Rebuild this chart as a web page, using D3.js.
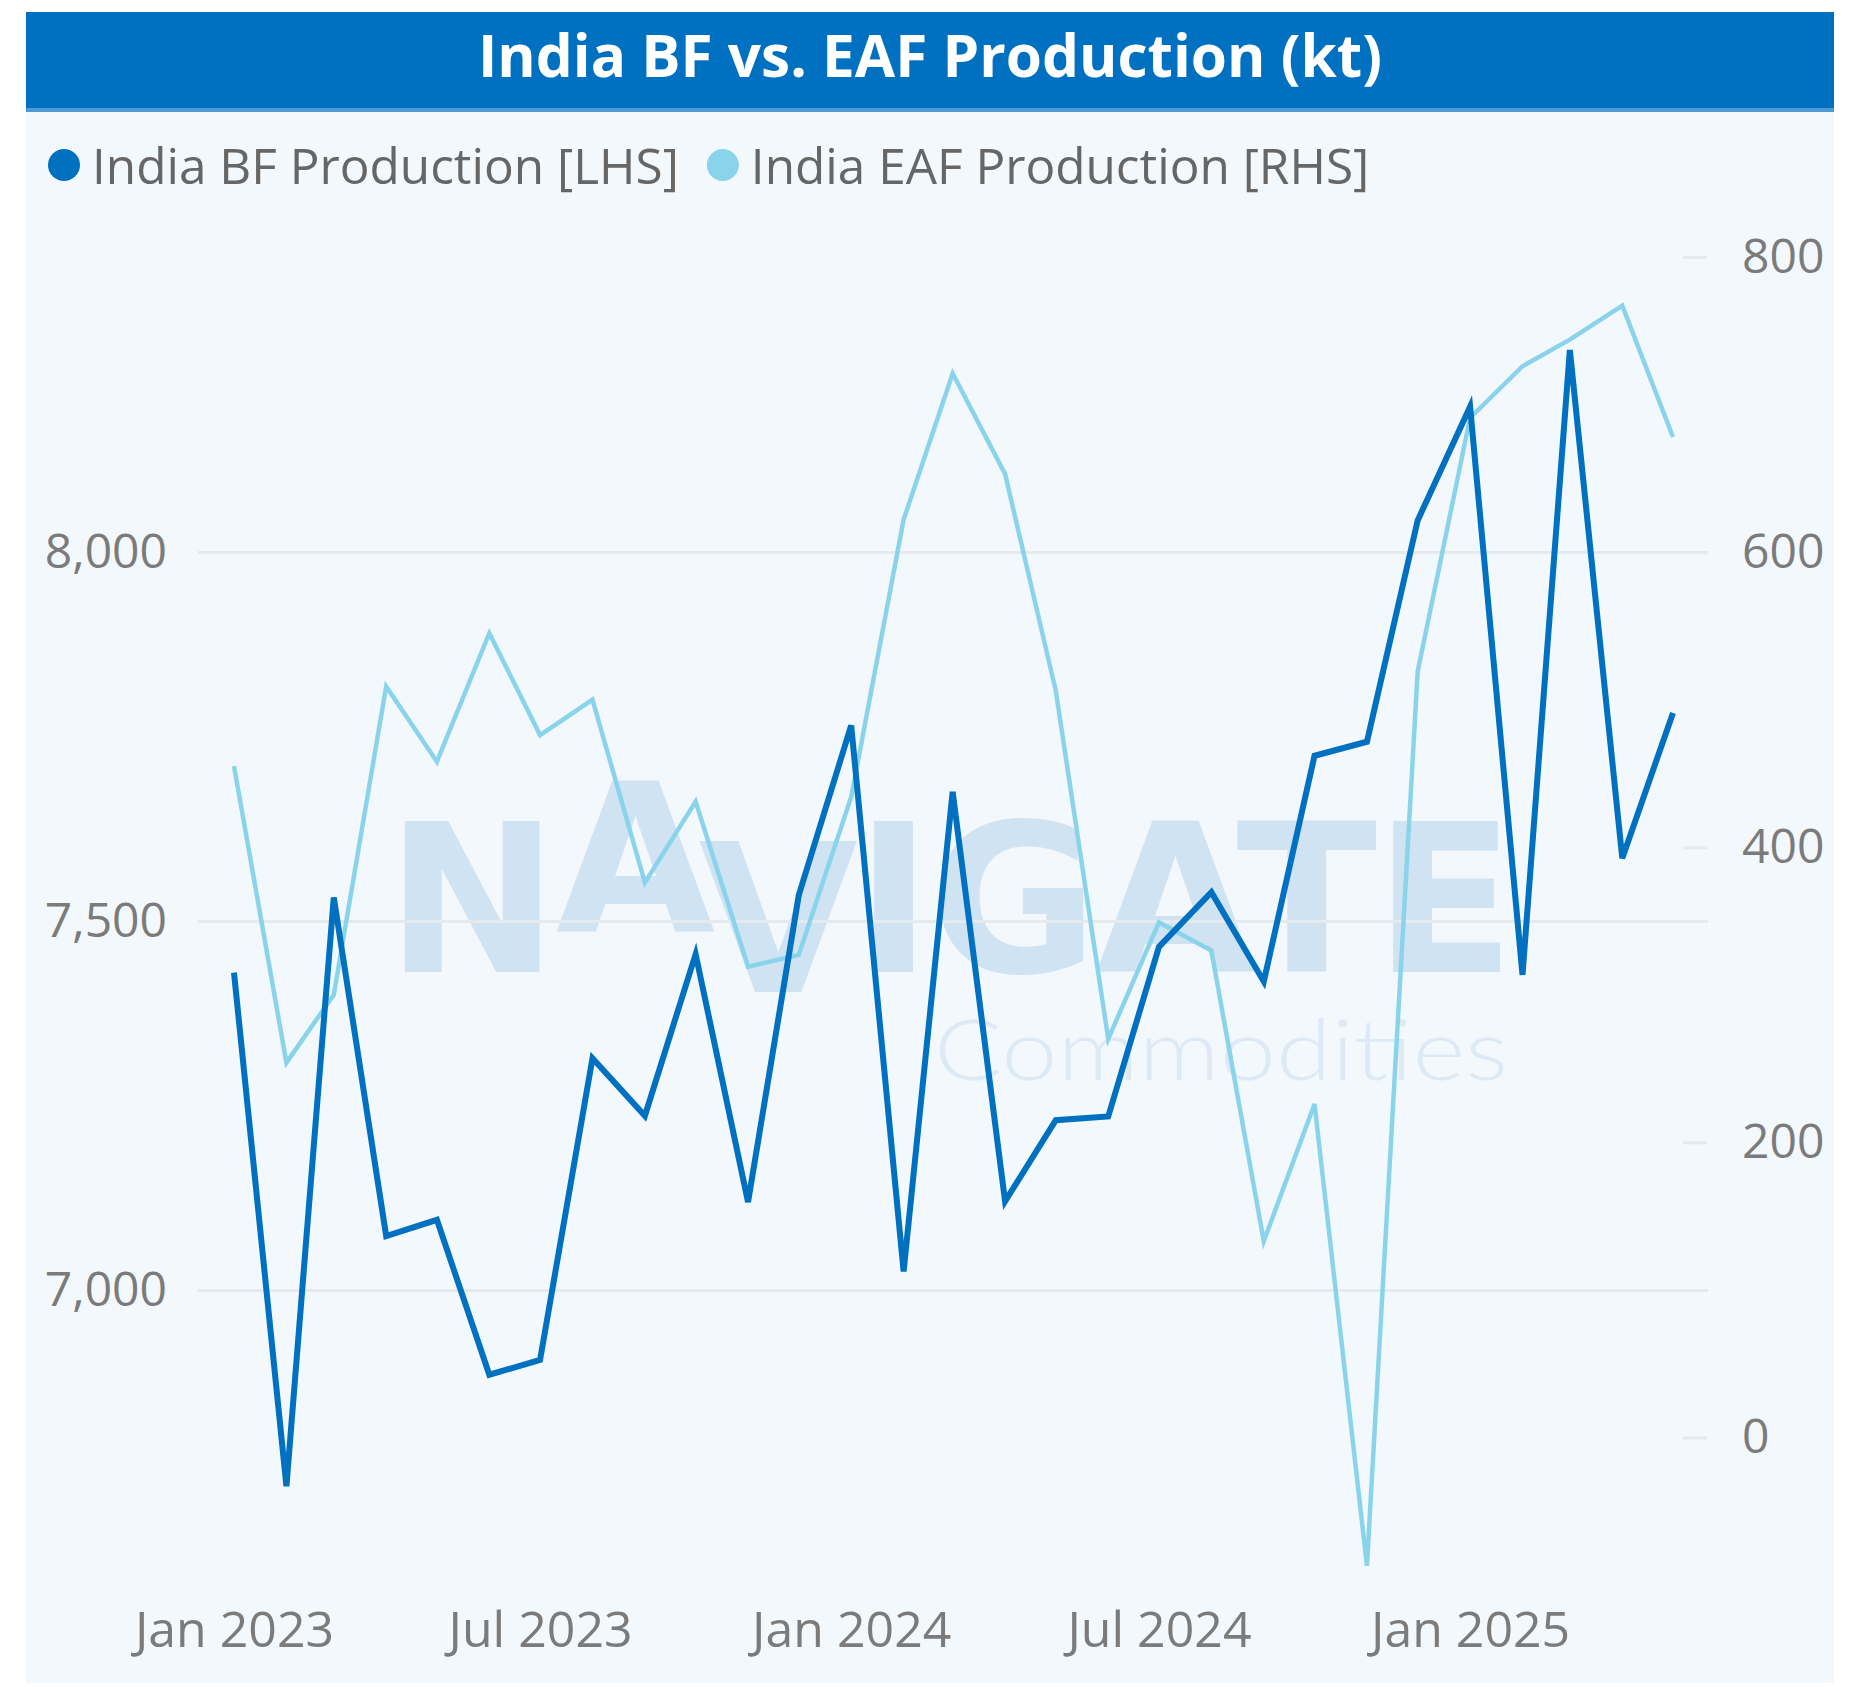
<!DOCTYPE html>
<html>
<head>
<meta charset="utf-8">
<script src="https://cdn.jsdelivr.net/npm/d3@7"></script>
<style>
  body { margin: 0; background: #ffffff; }
  svg { display: block; }
</style>
</head>
<body>
<svg id="chart" width="1855" height="1687"></svg>
<script>

// monthly data
var months = [
  "2023-01", "2023-02", "2023-03", "2023-04", "2023-05", "2023-06",
  "2023-07", "2023-08", "2023-09", "2023-10", "2023-11", "2023-12",
  "2024-01", "2024-02", "2024-03", "2024-04", "2024-05", "2024-06",
  "2024-07", "2024-08", "2024-09", "2024-10", "2024-11", "2024-12",
  "2025-01", "2025-02", "2025-03", "2025-04", "2025-05"
];

var bfProduction = [
  7430, 6734, 7532, 7073, 7095, 6885,
  6905, 7314, 7236, 7455, 7119, 7535,
  7765, 7025, 7675, 7120, 7230, 7235,
  7465, 7539, 7418, 7724, 7743, 8043,
  8197, 7427, 8274, 7585, 7782
];

var eafProduction = [
  455, 254, 300, 509, 458, 545,
  476, 500, 376, 431, 319, 327,
  434, 622, 721, 653, 506, 270,
  349, 330, 133, 226, -87, 519,
  691, 726, 744, 767, 678
];

var leftTicks = [7000, 7500, 8000];
var rightTicks = [0, 200, 400, 600, 800];
var xTicks = ["2023-01", "2023-07", "2024-01", "2024-07", "2025-01"];

var seriesNames = ["India BF Production [LHS]", "India EAF Production [RHS]"];
var seriesColors = ["#0070c0", "#8ad4eb"];
var titleText = "India BF vs. EAF Production (kt)";

var W = 1855, H = 1687;
var panel = { x0: 26, x1: 1834, top: 12, barBottom: 108 };
var plot = { left: 198, right: 1708, top: 257, bottom: 1585, x0: 234, x1: 1673 };
var fontFamily = "'Open Sans', 'Noto Sans', sans-serif";

var parseMonth = d3.timeParse("%Y-%m");
var dates = months.map(parseMonth);

var svg = d3.select("#chart");

// background panel + title bar
svg.append("rect")
  .attr("x", panel.x0).attr("y", panel.top)
  .attr("width", panel.x1 - panel.x0).attr("height", H - panel.top - 4)
  .attr("fill", "#f3f8fc");

svg.append("rect")
  .attr("x", panel.x0).attr("y", panel.top)
  .attr("width", panel.x1 - panel.x0).attr("height", panel.barBottom - panel.top)
  .attr("fill", "#0070c0");

svg.append("rect")
  .attr("x", panel.x0).attr("y", panel.barBottom)
  .attr("width", panel.x1 - panel.x0).attr("height", 4)
  .attr("fill", "#4f9ad4");

svg.append("text")
  .attr("x", (panel.x0 + panel.x1) / 2)
  .attr("y", 77)
  .attr("text-anchor", "middle")
  .attr("font-family", fontFamily)
  .attr("font-weight", 700)
  .attr("font-size", 58.5)
  .attr("fill", "#ffffff")
  .text(titleText);

// scales
var x = d3.scaleTime()
  .domain([dates[0], dates[dates.length - 1]])
  .range([plot.x0, plot.x1]);

var yLeft = d3.scaleLinear()
  .domain([6600, 8400])
  .range([plot.bottom, plot.top]);

var yRight = d3.scaleLinear()
  .domain([-100, 800])
  .range([plot.bottom, plot.top]);

// watermark
var wm = svg.append("g").attr("class", "watermark");

var wmText = wm.append("text")
  .attr("x", 386)
  .attr("y", 972)
  .attr("textLength", 1129)
  .attr("lengthAdjust", "spacing")
  .attr("font-family", "'DejaVu Sans', sans-serif")
  .attr("font-weight", 700)
  .attr("font-size", 206)
  .attr("fill", "#d0e3f3");
wmText.append("tspan").text("N");
wmText.append("tspan").attr("dy", -40).text("A");
wmText.append("tspan").attr("dy", 60).text("V");
wmText.append("tspan").attr("dy", -20).text("IGATE");

wm.append("text")
  .attr("x", 934)
  .attr("y", 1080)
  .attr("textLength", 574)
  .attr("lengthAdjust", "spacingAndGlyphs")
  .attr("font-family", "Lato, sans-serif")
  .attr("font-weight", 300)
  .attr("font-size", 84)
  .attr("fill", "#dde9f5")
  .text("Commodities");

// left axis with gridlines
var leftAxis = svg.append("g")
  .attr("transform", "translate(" + plot.left + ",0)")
  .call(d3.axisLeft(yLeft)
    .tickValues(leftTicks)
    .tickSize(-(plot.right - plot.left))
    .tickPadding(31)
    .tickFormat(d3.format(",")));

leftAxis.select(".domain").remove();
leftAxis.selectAll(".tick line")
  .attr("stroke", "#e7eaed")
  .attr("stroke-width", 3);
leftAxis.selectAll(".tick text")
  .attr("font-family", fontFamily)
  .attr("font-size", 48)
  .attr("fill", "#7b7b7b");

// right axis
var rightAxis = svg.append("g")
  .attr("transform", "translate(1683,0)")
  .call(d3.axisRight(yRight)
    .tickValues(rightTicks)
    .tickSize(24)
    .tickPadding(35));

rightAxis.select(".domain").remove();
rightAxis.selectAll(".tick line")
  .attr("stroke", "#e7eaed")
  .attr("stroke-width", 3);
rightAxis.selectAll(".tick text")
  .attr("font-family", fontFamily)
  .attr("font-size", 48)
  .attr("fill", "#7b7b7b");

// x axis
var xAxis = svg.append("g")
  .attr("transform", "translate(0," + plot.bottom + ")")
  .call(d3.axisBottom(x)
    .tickValues(xTicks.map(parseMonth))
    .tickSize(0)
    .tickPadding(26)
    .tickFormat(d3.timeFormat("%b %Y")));

xAxis.select(".domain").remove();
xAxis.selectAll(".tick text")
  .attr("font-family", fontFamily)
  .attr("font-size", 50)
  .attr("fill", "#7b7b7b");

// lines
var eafLine = d3.line()
  .x(function (d, i) { return x(dates[i]); })
  .y(function (d) { return yRight(d); });

var bfLine = d3.line()
  .x(function (d, i) { return x(dates[i]); })
  .y(function (d) { return yLeft(d); });

svg.append("path")
  .datum(eafProduction)
  .attr("fill", "none")
  .attr("stroke", seriesColors[1])
  .attr("stroke-width", 4.5)
  .attr("stroke-linejoin", "miter")
  .attr("d", eafLine);

svg.append("path")
  .datum(bfProduction)
  .attr("fill", "none")
  .attr("stroke", seriesColors[0])
  .attr("stroke-width", 6)
  .attr("stroke-linejoin", "miter")
  .attr("d", bfLine);

// legend
var legend = svg.append("g").attr("class", "legend");
var lx = 64;
seriesNames.forEach(function (name, i) {
  legend.append("circle")
    .attr("cx", lx)
    .attr("cy", 165)
    .attr("r", 16)
    .attr("fill", seriesColors[i]);
  var t = legend.append("text")
    .attr("x", lx + 28)
    .attr("y", 184)
    .attr("font-family", fontFamily)
    .attr("font-size", 49.5)
    .attr("fill", "#666666")
    .text(name);
  lx = lx + 28 + t.node().getComputedTextLength() + 44;
});

</script>
</body>
</html>
